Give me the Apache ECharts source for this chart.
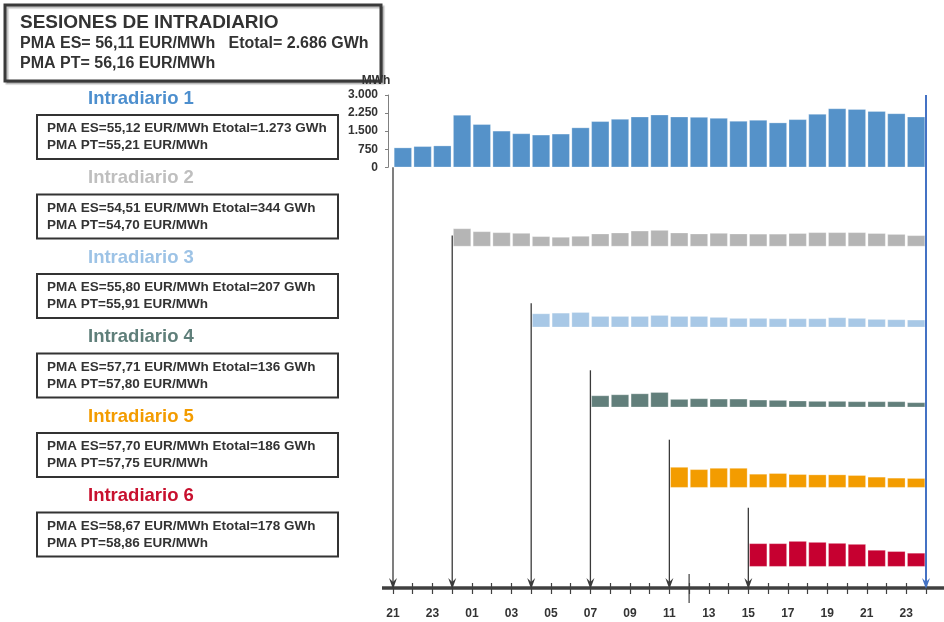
<!DOCTYPE html>
<html>
<head>
<meta charset="utf-8">
<script src="https://cdn.jsdelivr.net/npm/echarts@6/dist/echarts.min.js"></script>
<style>
  html, body { margin: 0; padding: 0; background: #fff; }
  #chart { width: 944px; height: 622px; }
</style>
</head>
<body>
<div id="chart"></div>
<script>
  // horas de la sesion (de las 21 h del dia anterior a las 23 h)
  var hours = ['21','22','23','00','01','02','03','04','05','06','07','08','09','10','11',
               '12','13','14','15','16','17','18','19','20','21','22','23'];
  var yTickLabels = ['0', '750', '1.500', '2.250', '3.000'];

  // energia por hora (MWh), '-' = hora fuera de la sesion
  var id1Data = [818,873,900,2169,1787,1514,1405,1350,1391,1650,1910,2005,2100,2182,
                 2100,2087,2046,1923,1964,1855,1991,2210,2442,2414,2332,2237,2100];
  var id2Data = ['-','-','-',750,627,586,559,423,395,436,532,573,654,682,573,532,559,532,
                 525,525,550,588,588,588,550,513,463];
  var id3Data = ['-','-','-','-','-','-','-',573,600,627,463,463,463,504,463,463,423,382,
                 382,368,368,368,409,382,341,327,313];
  var id4Data = ['-','-','-','-','-','-','-','-','-','-',491,532,572,627,341,368,354,354,
                 313,300,273,259,259,245,245,245,204];
  var id5Data = ['-','-','-','-','-','-','-','-','-','-','-','-','-','-',859,763,818,818,
                 572,600,559,545,545,518,450,409,395];
  var id6Data = ['-','-','-','-','-','-','-','-','-','-','-','-','-','-','-','-','-','-',
                 968,968,1063,1022,981,940,695,641,572];

  var sessionNames = ['Intradiario 1','Intradiario 2','Intradiario 3','Intradiario 4','Intradiario 5','Intradiario 6'];
  var pmaES  = ['55,12','54,51','55,80','57,71','57,70','58,67'];
  var pmaPT  = ['55,21','54,70','55,91','57,80','57,75','58,86'];
  var eTotal = ['1.273','344','207','136','186','178'];

  var totalTitle = 'SESIONES DE INTRADIARIO';
  var totalES = '56,11';
  var totalPT = '56,16';
  var totalE = '2.686';

  var barColors     = ['#5592C9','#B5B5B5','#A8C8E6','#627F7B','#F39C00','#C60030'];
  var headingColors = ['#4D8FCE','#BFBFBF','#9DC3E6','#5F7F7A','#F39C00','#C8102E'];

  var FONT = '"Liberation Sans", Arial, sans-serif';
  var GRID_LEFT = 393, GRID_RIGHT = 18, GRID_H = 72.3;
  var baselines = [167.3, 246.5, 327.3, 407.3, 487.7, 566.7];
  var arrowRise = [0, 11, 24, 37, 48, 59];
  var NOON = 15;

  var allData = [id1Data, id2Data, id3Data, id4Data, id5Data, id6Data];

  var chart = echarts.init(document.getElementById('chart'));

  var grids = [], xAxes = [], yAxes = [], series = [];
  allData.forEach(function(d, i){
    grids.push({left: GRID_LEFT, right: GRID_RIGHT, top: baselines[i] - GRID_H, height: GRID_H, outerBoundsMode: 'none'});
    xAxes.push({type: 'category', gridIndex: i, data: hours, show: false});
    var y = {type: 'value', gridIndex: i, min: 0, max: 3000, interval: 750, show: false, splitLine: {show: false}};
    if (i === 0) {
      y.show = true;
      y.offset = 5;
      y.name = 'MWh';
      y.nameGap = 8;
      y.nameTextStyle = {color: '#333', fontWeight: 'bold', fontSize: 12, fontFamily: FONT, padding: [0, 24, 0, 0]};
      y.axisLine = {show: true, lineStyle: {color: '#808080', width: 1}};
      y.axisTick = {show: true, length: 3, lineStyle: {color: '#808080'}};
      y.axisLabel = {
        color: '#333', fontWeight: 'bold', fontSize: 12, fontFamily: FONT, margin: 10,
        formatter: function(v){ return yTickLabels[v / 750]; }
      };
    }
    yAxes.push(y);
    series.push({
      type: 'bar', name: sessionNames[i], xAxisIndex: i, yAxisIndex: i, data: d,
      barCategoryGap: '9%', silent: true,
      itemStyle: {color: barColors[i], borderColor: 'rgba(255,255,255,0.45)', borderWidth: 0.6}
    });
  });

  // eje horario inferior
  grids.push({left: GRID_LEFT, right: GRID_RIGHT, top: 95, bottom: 34, outerBoundsMode: 'none'});
  xAxes.push({
    type: 'value', gridIndex: 6, min: 0, max: 27, interval: 1, position: 'bottom',
    axisLine: {show: false, onZero: false},
    axisTick: {show: true, length: 6, lineStyle: {color: '#404040', width: 1.2}},
    splitLine: {show: false},
    axisLabel: {
      color: '#333', fontWeight: 'bold', fontSize: 12, fontFamily: FONT, margin: 20,
      formatter: function(v){ return (v % 2 === 0 && v < hours.length) ? hours[v] : ''; }
    }
  });
  xAxes.push({
    type: 'value', gridIndex: 6, min: 0, max: 27, interval: 1, position: 'bottom',
    axisLine: {show: false, onZero: false},
    axisTick: {show: true, inside: true, length: 5, lineStyle: {color: '#404040', width: 1.2}},
    splitLine: {show: false},
    axisLabel: {show: false}
  });
  yAxes.push({type: 'value', gridIndex: 6, min: 0, max: 1, show: false, splitLine: {show: false}});

  chart.setOption({
    animation: false,
    backgroundColor: '#fff',
    grid: grids,
    xAxis: xAxes,
    yAxis: yAxes,
    series: series
  });

  // textos y flechas
  var g = [];
  g.push({type: 'rect', shape: {x: 5, y: 5, width: 376, height: 76},
    style: {fill: '#fff', stroke: '#3a3a3a', lineWidth: 3, shadowColor: 'rgba(0,0,0,0.25)', shadowOffsetX: 2, shadowOffsetY: 2, shadowBlur: 1}});
  g.push({type: 'text', x: 20, y: 23, style: {text: totalTitle, font: 'bold 19px ' + FONT, fill: '#333', verticalAlign: 'middle'}});
  g.push({type: 'text', x: 20, y: 44, style: {text: 'PMA ES= ' + totalES + ' EUR/MWh   Etotal= ' + totalE + ' GWh', font: 'bold 16px ' + FONT, fill: '#333', verticalAlign: 'middle'}});
  g.push({type: 'text', x: 20, y: 64, style: {text: 'PMA PT= ' + totalPT + ' EUR/MWh', font: 'bold 16px ' + FONT, fill: '#333', verticalAlign: 'middle'}});

  sessionNames.forEach(function(name, i){
    var dy = i * 79.5;
    g.push({type: 'text', x: 88, y: 98.5 + dy, style: {text: name, font: 'bold 18.5px ' + FONT, fill: headingColors[i], verticalAlign: 'middle'}});
    g.push({type: 'rect', shape: {x: 37, y: 115 + dy, width: 301, height: 44},
      style: {fill: '#fff', stroke: '#333', lineWidth: 2}});
    g.push({type: 'text', x: 47, y: 128.5 + dy, style: {text: 'PMA ES=' + pmaES[i] + ' EUR/MWh Etotal=' + eTotal[i] + ' GWh', font: 'bold 13.5px ' + FONT, fill: '#333', verticalAlign: 'middle'}});
    g.push({type: 'text', x: 47, y: 145.5 + dy, style: {text: 'PMA PT=' + pmaPT[i] + ' EUR/MWh', font: 'bold 13.5px ' + FONT, fill: '#333', verticalAlign: 'middle'}});
  });

  var axisY = chart.convertToPixel({xAxisIndex: 6, yAxisIndex: 6}, [0, 0])[1];
  var xAt = function(v){ return chart.convertToPixel({xAxisIndex: 6, yAxisIndex: 6}, [v, 0])[0]; };

  // linea gruesa del eje
  g.push({type: 'line', shape: {x1: xAt(0) - 11, y1: axisY, x2: xAt(hours.length) + 18, y2: axisY},
    style: {stroke: '#404040', lineWidth: 3.5}, z: 10});
  // marca de mediodia
  g.push({type: 'line', shape: {x1: xAt(NOON), y1: axisY - 14, x2: xAt(NOON), y2: axisY + 15},
    style: {stroke: '#404040', lineWidth: 1.2}, z: 10});

  function arrow(x, yTop, color, width){
    g.push({type: 'line', shape: {x1: x, y1: yTop, x2: x, y2: axisY - 6}, style: {stroke: color, lineWidth: width}, z: 11});
    g.push({type: 'polygon', shape: {points: [[x - 4, axisY - 10], [x, axisY - 6], [x + 4, axisY - 10], [x, axisY + 1]]},
      style: {fill: color}, z: 11});
  }

  allData.forEach(function(d, i){
    var start = 0;
    while (d[start] === '-') start++;
    var base = chart.convertToPixel({xAxisIndex: i, yAxisIndex: i}, [start, 0])[1];
    arrow(xAt(start), base - arrowRise[i], '#3a3a3a', 1.3);
  });
  var topY = chart.convertToPixel({xAxisIndex: 0, yAxisIndex: 0}, [0, 3000])[1];
  arrow(xAt(hours.length), topY, '#4472C4', 2);

  chart.setOption({graphic: g});
</script>
</body>
</html>
